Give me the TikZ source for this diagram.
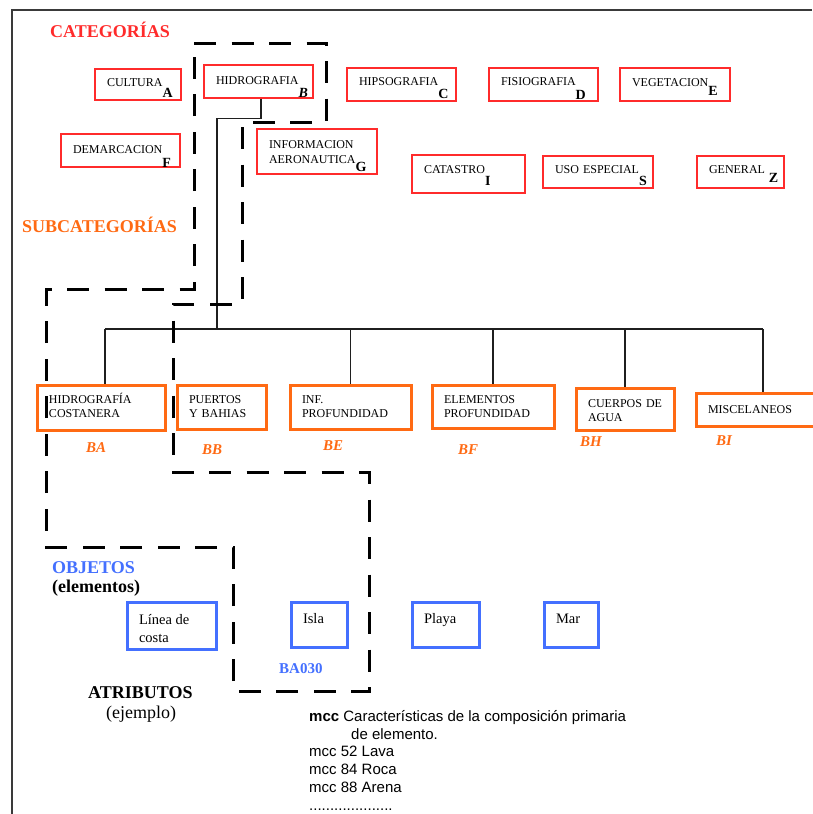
\documentclass[tikz,border=0pt]{standalone}
\usepackage{fontspec}
\setmainfont{Liberation Serif}
\setsansfont{Liberation Sans}
\definecolor{catred}{HTML}{FF2B2B}
\definecolor{suborange}{HTML}{FF6A13}
\definecolor{objblue}{HTML}{4470FF}
\definecolor{framegray}{HTML}{3A3A3A}
% category label: name followed by a lowered bold code letter
\newcommand\catlbl[3]{\hspace*{12pt}\mbox{#1\raisebox{-#3pt}{\fontsize{14}{14}\selectfont\bfseries #2}}}
% one indented line of a box label
\newcommand\boxline[1]{\hspace*{12pt}\mbox{#1}}
\begin{document}
\begin{tikzpicture}[x=1pt,y=-1pt,
  catbox/.style={draw=catred, line width=1.4pt, inner sep=0pt, align=left,
    font=\fontsize{12}{15}\selectfont},
  subbox/.style={draw=suborange, line width=3pt, inner sep=0pt, align=left,
    font=\fontsize{12}{14.5}\selectfont},
  objbox/.style={draw=objblue, line width=3pt, inner sep=0pt, align=left,
    font=\fontsize{14.5}{18}\selectfont},
  heading/.style={inner sep=0pt, anchor=base west, font=\fontsize{18}{18}\selectfont\bfseries},
  code/.style={inner sep=0pt, anchor=base west, text=suborange,
    font=\fontsize{15}{15}\selectfont\bfseries\itshape},
  tree/.style={draw=black!88, line width=1.2pt},
  group/.style={draw=black, line width=3pt, dash pattern=on 22pt off 15.5pt},
  frame/.style={draw=framegray, line width=1.8pt}
]
\useasboundingbox (0,0) rectangle (812,814);

% page frame
\draw[frame] (812,10) -- (12,10) -- (12,814);

% headings
\node[heading, text=catred] (tcat) at (50,37) {CATEGORÍAS};
\node[heading, text=suborange] (tsub) at (22,232) {SUBCATEGORÍAS};
\node[heading, text=objblue] (tobj) at (52,573) {OBJETOS};
\node[heading] (tele) at (52,592) {(elementos)};
\node[heading] (tatr) at (88,698) {ATRIBUTOS};
\node[inner sep=0pt, anchor=base west, font=\fontsize{18}{18}\selectfont] (tej) at (106,718) {(ejemplo)};

% categories
\node[catbox, text width=86pt, text height=17pt, text depth=14pt] (cul) at (138,84.5) {\catlbl{CULTURA}{A}{11}};
\node[catbox, text width=109pt, text height=19pt, text depth=14pt] (hid) at (258.5,81.5) {\catlbl{HIDROGRAFIA}{\textit{B}}{13}};
\node[catbox, text width=109pt, text height=17pt, text depth=16pt] (hip) at (401.5,84.5) {\catlbl{HIPSOGRAFIA}{C}{13}};
\node[catbox, text width=109pt, text height=17pt, text depth=16pt] (fis) at (543.5,84.5) {\catlbl{FISIOGRAFIA}{D}{14}};
\node[catbox, text width=110pt, text height=18pt, text depth=15pt] (veg) at (675,84.5) {\catlbl{VEGETACION}{E}{9}};
\node[catbox, text width=119pt, text height=19pt, text depth=14pt] (dem) at (120.5,150.5) {\catlbl{DEMARCACION}{F}{14}};
\node[catbox, text width=120pt, text height=19pt, text depth=26pt] (aer) at (317,151.5) {\boxline{INFORMACION}\\\catlbl{AERONAUTICA}{G}{8}};
\node[catbox, text width=113pt, text height=18pt, text depth=20pt] (cat) at (468.5,174) {\catlbl{CATASTRO}{I}{12}};
\node[catbox, text width=110pt, text height=17pt, text depth=15pt] (uso) at (598,172) {\catlbl{USO ESPECIAL}{S}{12}};
\node[catbox, text width=87pt, text height=17pt, text depth=15pt] (gen) at (740.5,172) {\catlbl{GENERAL\ }{Z}{9}};

% subcategories of HIDROGRAFIA
\node[subbox, text width=128pt, text height=18pt, text depth=27pt] (ba) at (101,407.5) {\boxline{HIDROGRAFÍA}\\\boxline{COSTANERA}};
\node[subbox, text width=89pt, text height=18pt, text depth=26pt] (bb) at (221.5,407) {\boxline{PUERTOS}\\\boxline{Y BAHIAS}};
\node[subbox, text width=121pt, text height=18pt, text depth=26pt] (be) at (350.5,407) {\boxline{INF.}\\\boxline{PROFUNDIDAD}};
\node[subbox, text width=122pt, text height=18pt, text depth=25pt] (bf) at (493,406.5) {\boxline{ELEMENTOS}\\\boxline{PROFUNDIDAD}};
\node[subbox, text width=98pt, text height=19pt, text depth=23pt] (bh) at (625,409) {\boxline{CUERPOS DE}\\\boxline{AGUA}};
\node[subbox, text width=134pt, text height=20pt, text depth=13pt] (bi) at (763,409.5) {\boxline{MISCELANEOS}};

\node[code] (cba) at (86,452) {BA};
\node[code] (cbb) at (202,454) {BB};
\node[code] (cbe) at (323,450) {BE};
\node[code] (cbf) at (458,454) {BF};
\node[code] (cbh) at (580,446) {BH};
\node[code] (cbi) at (716,445) {BI};

% tree from HIDROGRAFIA to its subcategories
\coordinate (hub) at (217,329);
\coordinate (busL) at (105,329);
\draw[tree] ([xshift=2.5pt]hid.south) -- ++(0,20) -| (hub);
\draw[tree] (busL) -- (bi.north |- hub);
\draw[tree] (busL) -- (busL |- ba.north);
\draw[tree] (be.north |- hub) -- (be.north);
\draw[tree] (bf.north |- hub) -- (bf.north);
\draw[tree] (bh.north |- hub) -- (bh.north);
\draw[tree] (bi.north |- hub) -- (bi.north);

% objects
\node[objbox, text width=89pt, text height=22pt, text depth=25pt] (lin) at (171.5,625.5) {\boxline{Línea\kern3.6pt de}\\\boxline{costa}};
\node[objbox, text width=56pt, text height=21pt, text depth=24pt] (isl) at (319,624.5) {\boxline{Isla}};
\node[objbox, text width=67pt, text height=21pt, text depth=24pt] (pla) at (445.5,624.5) {\boxline{Playa}};
\node[objbox, text width=54pt, text height=21pt, text depth=24pt] (mar) at (571,624.5) {\boxline{Mar}};
\node[inner sep=0pt, anchor=base west, text=objblue, font=\fontsize{15}{15}\selectfont\bfseries] (code) at (279,673) {BA030};

% grouping outline: HIDROGRAFIA -> HIDROGRAFÍA COSTANERA -> Isla
\draw[group] (194,43) -- (326,43) -- (326,122) -- (242,122) -- (242,304) -- (173,304)
  -- (173,472) -- (369,472) -- (369,691) -- (233,691) -- (233,547) -- (46,547)
  -- (46,289) -- (194,289) -- cycle;

% attribute example
\node[inner sep=0pt, anchor=north west, align=left, font=\sffamily\fontsize{15}{17.8}\selectfont] (attr) at (309,710)
  {\textbf{mcc} Características de la composición primaria\\
   \hspace*{42pt}de elemento.\\
   mcc 52 Lava\\
   mcc 84 Roca\\
   mcc 88 Arena\\
   ....................};
\end{tikzpicture}
\end{document}
